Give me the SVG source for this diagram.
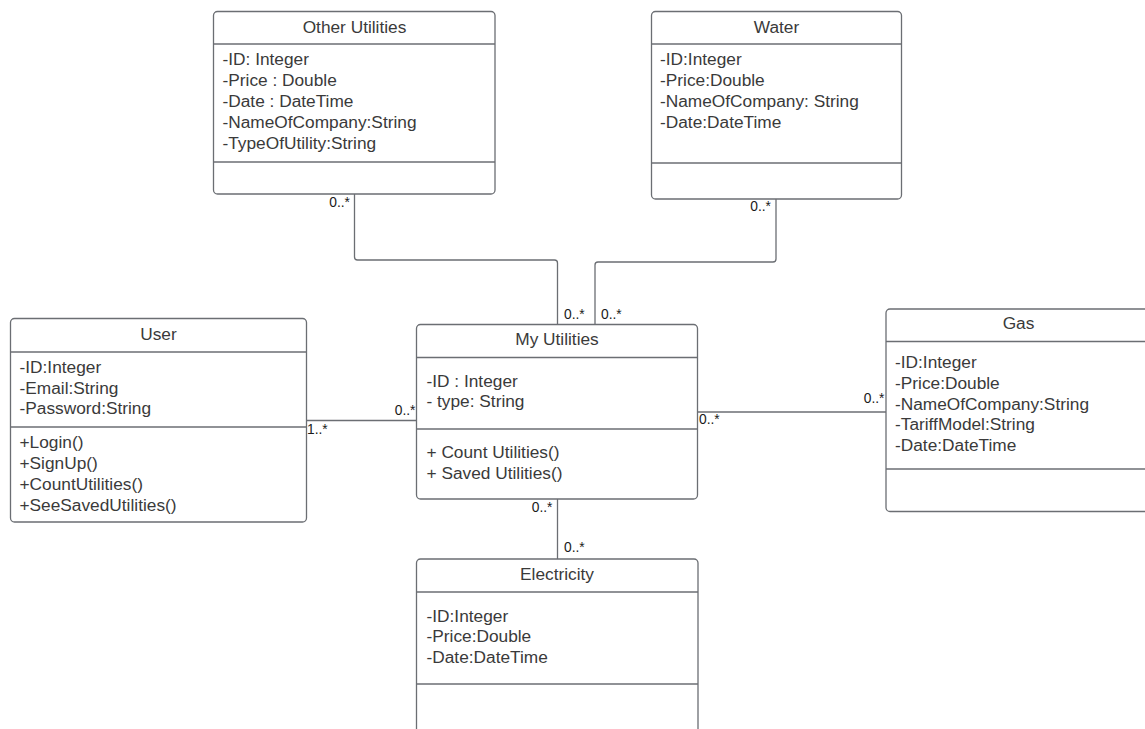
<svg xmlns="http://www.w3.org/2000/svg" width="1145" height="729" viewBox="0 0 1145 729">
<style>
.box{fill:#fff;stroke:#6b6e73;stroke-width:1.3}
.sep{stroke:#6b6e73;stroke-width:1.3}
.t{font-family:"Liberation Sans",Arial,sans-serif;font-size:17.3px;fill:#3a3a3a}
.c{text-anchor:middle}
.lbl{font-family:"Liberation Sans",Arial,sans-serif;font-size:13.8px;fill:#1a1a1a}
.e{text-anchor:end}
.conn{fill:none;stroke:#6b6e73;stroke-width:1.3}
</style>
<rect width="1145" height="729" fill="#fff"/>
<g id="connectors">
<path class="conn" d="M354.5 194 V257 Q354.5 260 357.5 260 H554.5 Q557.5 260 557.5 263 V324.5"/>
<path class="conn" d="M776 199 V259 Q776 262 773 262 H598 Q595 262 595 265 V324.5"/>
<path class="conn" d="M306.5 420.5 H416.5"/>
<path class="conn" d="M697.5 412 H886"/>
<path class="conn" d="M557.5 499 V559"/>
<text class="lbl e" x="350" y="207">0..*</text>
<text class="lbl e" x="771" y="211">0..*</text>
<text class="lbl" x="564" y="319">0..*</text>
<text class="lbl" x="601" y="319">0..*</text>
<text class="lbl" x="307" y="434">1..*</text>
<text class="lbl e" x="415.5" y="415">0..*</text>
<text class="lbl" x="699" y="424">0..*</text>
<text class="lbl e" x="884.5" y="403">0..*</text>
<text class="lbl e" x="552.5" y="512">0..*</text>
<text class="lbl" x="564" y="552">0..*</text>
</g>
<g id="other-utilities">
<rect class="box" x="213.5" y="11.5" width="281.5" height="182.5" rx="4"/>
<line class="sep" x1="213.5" y1="44" x2="495" y2="44"/>
<line class="sep" x1="213.5" y1="162" x2="495" y2="162"/>
<text class="t c" x="354.5" y="32.5">Other Utilities</text>
<text class="t" x="222.5" y="65">-ID: Integer</text>
<text class="t" x="222.5" y="86">-Price : Double</text>
<text class="t" x="222.5" y="107">-Date : DateTime</text>
<text class="t" x="222.5" y="128">-NameOfCompany:String</text>
<text class="t" x="222.5" y="149">-TypeOfUtility:String</text>
</g>
<g id="water">
<rect class="box" x="651.5" y="11.5" width="250" height="187.5" rx="4"/>
<line class="sep" x1="651.5" y1="44" x2="901.5" y2="44"/>
<line class="sep" x1="651.5" y1="163" x2="901.5" y2="163"/>
<text class="t c" x="776.5" y="32.5">Water</text>
<text class="t" x="660" y="65">-ID:Integer</text>
<text class="t" x="660" y="86">-Price:Double</text>
<text class="t" x="660" y="107">-NameOfCompany: String</text>
<text class="t" x="660" y="128">-Date:DateTime</text>
</g>
<g id="user">
<rect class="box" x="10.5" y="318.5" width="296" height="203.5" rx="4"/>
<line class="sep" x1="10.5" y1="352" x2="306.5" y2="352"/>
<line class="sep" x1="10.5" y1="427" x2="306.5" y2="427"/>
<text class="t c" x="158.5" y="340">User</text>
<text class="t" x="19.5" y="372.5">-ID:Integer</text>
<text class="t" x="19.5" y="393.5">-Email:String</text>
<text class="t" x="19.5" y="414">-Password:String</text>
<text class="t" x="19.5" y="448">+Login()</text>
<text class="t" x="19.5" y="469">+SignUp()</text>
<text class="t" x="19.5" y="490">+CountUtilities()</text>
<text class="t" x="19.5" y="510.5">+SeeSavedUtilities()</text>
</g>
<g id="my-utilities">
<rect class="box" x="416.5" y="324.5" width="281" height="174.5" rx="4"/>
<line class="sep" x1="416.5" y1="357.5" x2="697.5" y2="357.5"/>
<line class="sep" x1="416.5" y1="429" x2="697.5" y2="429"/>
<text class="t c" x="557" y="344.5">My Utilities</text>
<text class="t" x="426.5" y="386.5">-ID : Integer</text>
<text class="t" x="426.5" y="407">- type: String</text>
<text class="t" x="426.5" y="458">+ Count Utilities()</text>
<text class="t" x="426.5" y="479">+ Saved Utilities()</text>
</g>
<g id="gas">
<rect class="box" x="886" y="309" width="270" height="202.5" rx="4"/>
<line class="sep" x1="886" y1="341.5" x2="1156" y2="341.5"/>
<line class="sep" x1="886" y1="469" x2="1156" y2="469"/>
<text class="t c" x="1018.5" y="329">Gas</text>
<text class="t" x="895" y="367.5">-ID:Integer</text>
<text class="t" x="895" y="388.5">-Price:Double</text>
<text class="t" x="895" y="409.5">-NameOfCompany:String</text>
<text class="t" x="895" y="430">-TariffModel:String</text>
<text class="t" x="895" y="450.5">-Date:DateTime</text>
</g>
<g id="electricity">
<rect class="box" x="416.5" y="559" width="281.5" height="190" rx="4"/>
<line class="sep" x1="416.5" y1="592" x2="698" y2="592"/>
<line class="sep" x1="416.5" y1="684" x2="698" y2="684"/>
<text class="t c" x="557" y="580">Electricity</text>
<text class="t" x="426.5" y="621.5">-ID:Integer</text>
<text class="t" x="426.5" y="642">-Price:Double</text>
<text class="t" x="426.5" y="662.5">-Date:DateTime</text>
</g>
</svg>
